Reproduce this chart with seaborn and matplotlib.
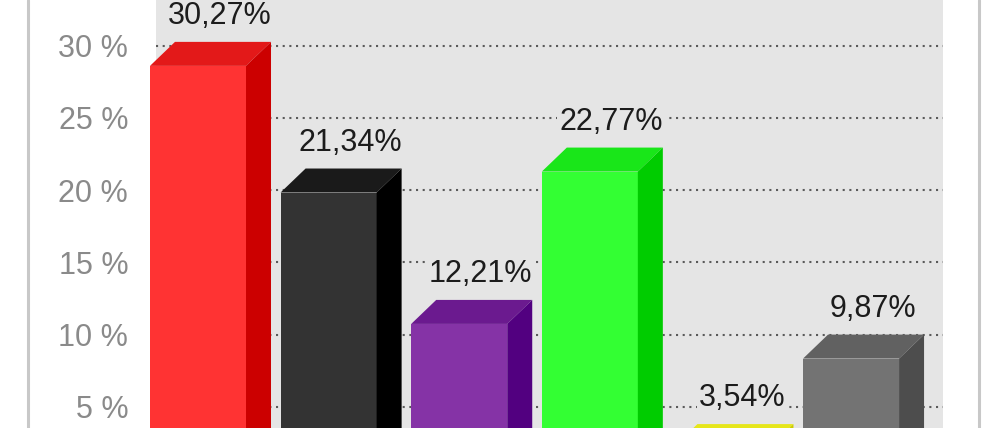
import pandas as pd
import seaborn as sns
import matplotlib.pyplot as plt
from matplotlib.lines import Line2D

# Alturas (os rótulos trazem os valores impressos)
series = ['a', 'b', 'c', 'd', 'e', 'f']
valores = [30.27, 21.5, 12.4, 22.95, 3.8, 10.0]
rotulos = ['30,27%', '21,34%', '12,21%', '22,77%', '3,54%', '9,87%']
ticks = [5, 10, 15, 20, 25, 30]
ticks_txt = ['5 %', '10 %', '15 %', '20 %', '25 %', '30 %']

cor_frente = ['#ff3333', '#333333', '#8533a6', '#33ff33', '#eeee22', '#737373']
cor_topo = ['#e31919', '#1a1a1a', '#6b1a8f', '#19e619', '#e6e619', '#616161']
cor_lado = ['#cc0000', '#000000', '#520080', '#00cc00', '#cccc00', '#4d4d4d']

# Profundidade do efeito 3D, em unidades dos eixos
prof_x = 25 / 130.6
prof_y = 24 / 14.44
largura = 96 / 130.6

sns.set_theme(style='white')
plt.rcParams['font.family'] = ['Liberation Sans', 'DejaVu Sans']

df = pd.DataFrame({'serie': series, 'frente': [v - prof_y for v in valores]})

fig = plt.figure(figsize=(10, 4.28), dpi=100)
ax = fig.add_axes([0.156, 0, 0.787, 1], facecolor='#e5e5e5')

sns.barplot(data=df, x='serie', y='frente', hue='serie', palette=cor_frente, order=series,
            hue_order=series, width=largura, saturation=1, legend=False, ax=ax, zorder=3,
            linewidth=0)
for barra in ax.patches:
    barra.set_clip_on(False)

# Faces de cima e do lado
for i, v in enumerate(valores):
    esq = i - largura / 2
    dir_ = i + largura / 2
    ax.fill([esq, esq + prof_x, dir_ + prof_x, dir_], [v - prof_y, v, v, v - prof_y],
            color=cor_topo[i], lw=0, zorder=3, clip_on=False)
    ax.fill([dir_, dir_ + prof_x, dir_ + prof_x, dir_], [v - prof_y, v, 0, 0],
            color=cor_lado[i], lw=0, zorder=3, clip_on=False)
    ax.annotate(rotulos[i], xy=(i + prof_x / 2, v), xytext=(6.5, 18.5), textcoords='offset points',
                ha='center', va='center', fontsize=22, color='#1c1c1c', zorder=4,
                bbox=dict(facecolor='#e5e5e5', edgecolor='none', pad=1.5), annotation_clip=False)

ax.set_xlim(-0.3216, 5.704)
ax.set_ylim(3.53, 33.17)
ax.set_yticks(ticks)
ax.set_yticklabels(ticks_txt, fontsize=22, color='#8a8a8a')
ax.set_xticks([])
ax.set_xlabel('')
ax.set_ylabel('')
ax.tick_params(axis='y', length=0, pad=20)
ax.grid(axis='y', linestyle=(0, (1, 2.2)), color='#5a5a5a', linewidth=1.5, zorder=1)
ax.set_axisbelow(True)
sns.despine(ax=ax, left=True, bottom=True)

# Moldura externa
for x in [0.0275, 0.979]:
    fig.add_artist(Line2D([x, x], [0, 1], color='#c8c8c8', linewidth=2.2))

fig.savefig('out.png', dpi=100)
